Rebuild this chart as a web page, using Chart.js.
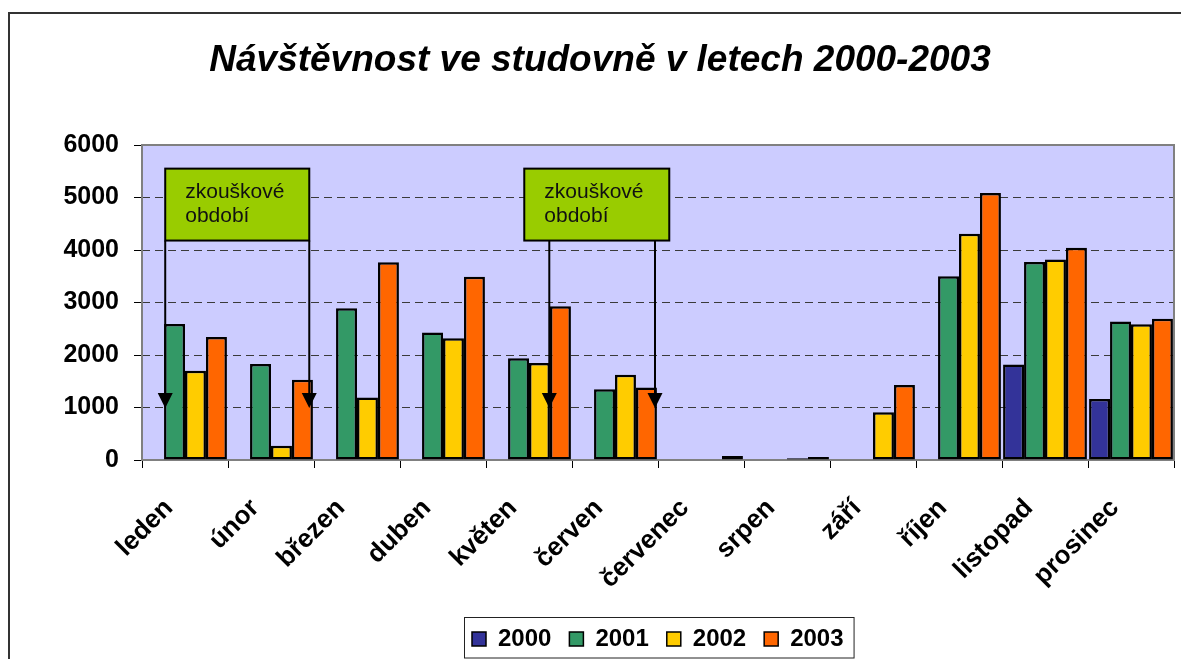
<!DOCTYPE html>
<html>
<head>
<meta charset="utf-8">
<script src="https://cdn.jsdelivr.net/npm/chart.js@4/dist/chart.umd.min.js"></script>
<style>
  html, body { margin: 0; padding: 0; background: #fff; overflow: hidden; }
  canvas { display: block; }
</style>
</head>
<body>
<canvas id="c" width="1181" height="659"></canvas>
<script>
// ---- data ----
const title = 'Návštěvnost ve studovně v letech 2000-2003';
const months = ['leden','únor','březen','duben','květen','červen','červenec','srpen','září','říjen','listopad','prosinec'];
const seriesNames = ['2000','2001','2002','2003'];
const v2000 = [0, 0, 0, 0, 0, 0, 0, 0, 0, 0, 1820, 1160];
const v2001 = [2590, 1830, 2890, 2430, 1940, 1350, 0, 0, 0, 3500, 3770, 2640];
const v2002 = [1700, 270, 1190, 2320, 1850, 1625, 0, 35, 910, 4310, 3820, 2585];
const v2003 = [2345, 1530, 3765, 3490, 2930, 1380, 75, 55, 1430, 5085, 4045, 2690];
const yTicks = [0, 1000, 2000, 3000, 4000, 5000, 6000];
const noteText = ['zkouškové', 'období'];
// annotation placement in data units (category index, value)
const notes = [
  { x0: -0.23, x1: 1.445, arrows: [-0.23, 1.445] },
  { x0: 3.945, x1: 5.631, arrows: [4.236, 5.465] }
];
const noteTop = 5550, noteBottom = 4180, arrowTip = 990;

const colors = ['#333399', '#339966', '#FFCC00', '#FF6600'];
const FONT = '"Liberation Sans", Arial, Helvetica, sans-serif';

const decor = {
  id: 'decor',
  beforeDraw(chart) {
    const { ctx, chartArea: a } = chart;
    ctx.save();
    ctx.fillStyle = '#fff';
    ctx.fillRect(0, 0, chart.width, chart.height);
    // outer frame
    ctx.strokeStyle = '#333';
    ctx.lineWidth = 2;
    ctx.beginPath();
    ctx.moveTo(9, chart.height + 2);
    ctx.lineTo(9, 13);
    ctx.lineTo(chart.width + 2, 13);
    ctx.stroke();
    // plot background
    ctx.fillStyle = '#CCCCFF';
    ctx.fillRect(a.left, a.top, a.right - a.left, a.bottom - a.top);
    ctx.restore();
  },
  beforeDatasetsDraw(chart) {
    const { ctx, chartArea: a } = chart;
    ctx.save();
    ctx.strokeStyle = '#808080';
    ctx.lineWidth = 2;
    ctx.strokeRect(a.left, a.top, a.right - a.left, a.bottom - a.top);
    ctx.restore();
  },
  afterDatasetsDraw(chart) {
    const { ctx } = chart;
    const xs = chart.scales.x, ys = chart.scales.y;
    ctx.save();
    notes.forEach(n => {
      const l = xs.getPixelForValue(n.x0), r = xs.getPixelForValue(n.x1);
      const t = ys.getPixelForValue(noteTop), b = ys.getPixelForValue(noteBottom);
      const tip = ys.getPixelForValue(arrowTip);
      // arrows
      ctx.strokeStyle = '#000';
      ctx.fillStyle = '#000';
      ctx.lineWidth = 2;
      n.arrows.forEach(ax => {
        const px = xs.getPixelForValue(ax);
        ctx.beginPath();
        ctx.moveTo(px, b);
        ctx.lineTo(px, tip - 12);
        ctx.stroke();
        ctx.beginPath();
        ctx.moveTo(px - 7.5, tip - 15);
        ctx.lineTo(px + 7.5, tip - 15);
        ctx.lineTo(px, tip);
        ctx.closePath();
        ctx.fill();
      });
      // box
      ctx.fillStyle = '#99CC00';
      ctx.fillRect(l, t, r - l, b - t);
      ctx.strokeStyle = '#000';
      ctx.lineWidth = 2;
      ctx.strokeRect(l, t, r - l, b - t);
      ctx.fillStyle = '#111';
      ctx.font = '21px ' + FONT;
      ctx.textAlign = 'left';
      ctx.textBaseline = 'middle';
      ctx.fillText(noteText[0], l + 20, t + 24);
      ctx.fillText(noteText[1], l + 20, t + 48);
    });
    ctx.restore();
  },
  afterDraw(chart) {
    const { ctx } = chart;
    ctx.save();
    // title
    ctx.fillStyle = '#000';
    ctx.font = 'italic bold 37px ' + FONT;
    ctx.textAlign = 'center';
    ctx.textBaseline = 'alphabetic';
    ctx.fillText(title, 600, 71);
    // legend
    ctx.font = 'bold 24px ' + FONT;
    ctx.textBaseline = 'middle';
    ctx.textAlign = 'left';
    let x = 472;
    const cy = 639;
    const items = chart.data.datasets.map(d => ({ label: d.label, color: d.backgroundColor }));
    const startX = x;
    items.forEach((it, i) => {
      ctx.fillStyle = it.color;
      ctx.fillRect(x, cy - 7, 14, 14);
      ctx.strokeStyle = '#000';
      ctx.lineWidth = 1.5;
      ctx.strokeRect(x, cy - 7, 14, 14);
      ctx.fillStyle = '#000';
      const tx = x + 26;
      ctx.fillText(it.label, tx, cy);
      x = tx + ctx.measureText(it.label).width + (i < items.length - 1 ? 18 : 0);
    });
    ctx.strokeStyle = '#222';
    ctx.lineWidth = 1;
    ctx.strokeRect(startX - 7.5, 617.5, x - startX + 18, 40.5);
    ctx.restore();
  }
};

const datasets = [v2000, v2001, v2002, v2003].map((vals, i) => ({
  label: seriesNames[i],
  data: vals,
  backgroundColor: colors[i],
  borderColor: '#000',
  borderWidth: 2.5,
  borderSkipped: false,
  categoryPercentage: 0.975,
  barPercentage: 1.0
}));

Chart.defaults.font.family = FONT;

new Chart(document.getElementById('c'), {
  type: 'bar',
  data: { labels: months, datasets },
  options: {
    responsive: false,
    animation: false,
    devicePixelRatio: 1,
    layout: { padding: { left: 0, right: 7, top: 145, bottom: 0 } },
    plugins: {
      legend: { display: false },
      title: { display: false },
      tooltip: { enabled: false }
    },
    scales: {
      x: {
        grid: {
          display: true,
          drawOnChartArea: false,
          drawTicks: true,
          tickLength: 8,
          tickColor: '#000',
          tickWidth: 1
        },
        border: { display: false },
        ticks: {
          color: '#000',
          font: { size: 26, weight: 'bold', family: FONT },
          minRotation: 45,
          maxRotation: 45,
          padding: 25,
          labelOffset: -16,
          autoSkip: false
        },
        afterFit(s) { s.height = 199; }
      },
      y: {
        min: 0,
        max: 6000,
        afterBuildTicks(s) { s.ticks = yTicks.map(v => ({ value: v })); },
        grid: {
          color: c => (c.tick && (c.tick.value === 0 || c.tick.value === 6000)) ? 'rgba(0,0,0,0)' : '#3a3a3a',
          lineWidth: 1,
          drawTicks: true,
          tickLength: 8,
          tickColor: '#000',
          tickWidth: 1,
          tickBorderDash: []
        },
        border: { display: false, dash: [8, 5] },
        ticks: {
          color: '#000',
          font: { size: 25, weight: 'bold', family: FONT },
          padding: 15,
          callback: v => String(v)
        },
        afterFit(s) { s.width = 142; }
      }
    }
  },
  plugins: [decor]
});
</script>
</body>
</html>
